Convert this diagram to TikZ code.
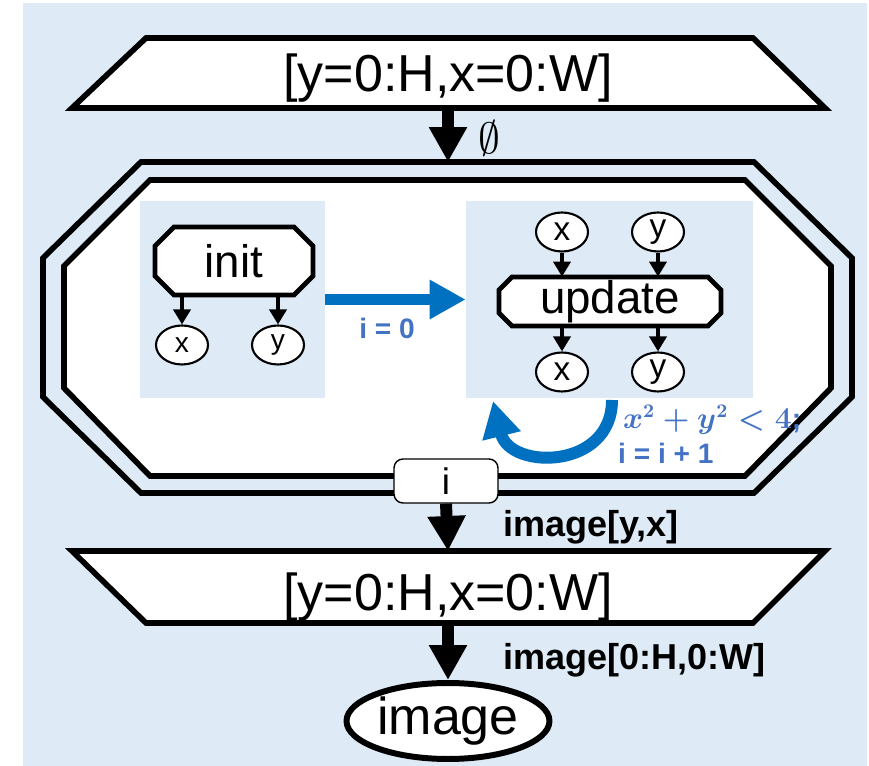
\documentclass[tikz,border=0pt]{standalone}
\usepackage{fontspec}
\setmainfont{Liberation Sans}
\usepackage{amsmath, amssymb}
\usetikzlibrary{arrows.meta, shapes.misc, shapes.geometric, positioning}
\definecolor{bgblue}{HTML}{DEEBF7}
\definecolor{arrblue}{HTML}{0070C0}
\definecolor{txtblue}{HTML}{4472C4}

\begin{document}
\begin{tikzpicture}[x=0.02cm, y=-0.02cm,
        bigline/.style={line width=3.2pt, line join=miter},
        funcline/.style={line width=2.8pt, line join=miter, fill=white},
        flow/.style={line width=6.8pt, -{Triangle[width=0.72cm,length=0.7cm]}},
        smallflow/.style={line width=2.6pt, -{Triangle[width=0.34cm,length=0.3cm]}},
        blueflow/.style={arrblue, line width=6.8pt, -{Triangle[width=0.74cm,length=0.72cm]}},
        varnode/.style={ellipse, draw, line width=1.2pt, fill=white, minimum width=1.04cm, minimum height=0.78cm, inner sep=0pt, font=\fontsize{19}{19}\selectfont},
        funcnode/.style={rectangle, inner sep=0pt, font=\fontsize{26}{26}\selectfont},
        panel/.style={fill=bgblue, inner sep=0pt, minimum height=3.94cm},
        rangetext/.style={font=\fontsize{29.6}{29.6}\selectfont},
        lbl/.style={font=\bfseries\fontsize{20.5}{20.5}\selectfont, anchor=west},
        bluelbl/.style={text=txtblue, font=\bfseries\fontsize{16}{16}\selectfont, anchor=west}]
    \useasboundingbox (0,0) rectangle (869,766);
    \fill[bgblue] (23,3) rectangle (867,766);

    % outer range
    \filldraw[bigline, fill=white] (146,38) -- (753,38) -- (825,108) -- (72,108) -- cycle;
    \node[rangetext] (toprange) at (448,78) {[y=0:H,x=0:W]};
    \coordinate (topout) at (448,108);

    % loop body
    \draw[bigline] (141,162) -- (754,162) -- (852,258) -- (852,397) -- (754,493) -- (141,493) -- (43,397) -- (43,258) -- cycle;
    \filldraw[bigline, fill=white] (150,180) -- (745,180) -- (831,266) -- (831,388) -- (745,476) -- (150,476) -- (64,388) -- (64,266) -- cycle;
    \coordinate (loopin) at (448,162);

    \node[panel, minimum width=3.7cm] (lpanel) at (232.5,299.5) {};
    \node[panel, minimum width=5.74cm] (rpanel) at (609.5,299.5) {};

    % init block
    \filldraw[funcline] (174,227) -- (294,227) -- (313,246) -- (313,276) -- (294,295) -- (174,295) -- (155,276) -- (155,246) -- cycle;
    \node[funcnode, minimum width=3.16cm, minimum height=1.36cm] (init) at (234,261) {init};
    \node[varnode, font=\fontsize{16}{16}\selectfont] (initx) at (182,345) {x};
    \node[varnode, font=\fontsize{16}{16}\selectfont] (inity) at (278,345) {y};
    \draw[smallflow] (init.south -| initx) -- (initx.north);
    \draw[smallflow] (init.south -| inity) -- (inity.north);

    % update block
    \filldraw[funcline] (512,277) -- (708,277) -- (721,290) -- (721,313) -- (708,326) -- (512,326) -- (499,313) -- (499,290) -- cycle;
    \node[funcnode, minimum width=4.44cm, minimum height=0.98cm] (update) at (610,301.5) {update};
    \node[varnode] (inx) at (562,232) {x};
    \node[varnode] (iny) at (658,232) {y};
    \node[varnode] (outx) at (562,372) {x};
    \node[varnode] (outy) at (658,372) {y};
    \draw[smallflow] (inx.south) -- (update.north -| inx);
    \draw[smallflow] (iny.south) -- (update.north -| iny);
    \draw[smallflow] (update.south -| outx) -- (outx.north);
    \draw[smallflow] (update.south -| outy) -- (outy.north);

    \draw[blueflow] (lpanel.east) -- (rpanel.west);
    \node[bluelbl, anchor=center] (initval) at (387,328) {i = 0};

    \coordinate (loopa) at (612,400);
    \coordinate (loopb) at (493,401);
    \draw[blueflow] (loopa) .. controls (612,470) and (510,470) .. (loopb);
    \node[bluelbl] (condlbl) at (617,420) {$\boldsymbol{x^2+y^2<4}$;};
    \node[bluelbl] (incrlbl) at (612,453) {i = i + 1};

    \node[draw, fill=white, rounded corners=0.18cm, line width=0.8pt, minimum width=2.08cm, minimum height=0.88cm, font=\fontsize{21}{21}\selectfont] (ivar) at (446,481) {i};

    % inner range
    \filldraw[bigline, fill=white] (72,551) -- (825,551) -- (753,623) -- (146,623) -- cycle;
    \node[rangetext] (botrange) at (448,597) {[y=0:H,x=0:W]};
    \coordinate (botin) at (448,551);
    \coordinate (botout) at (448,623);

    \node[ellipse, draw, line width=3.4pt, fill=white, minimum width=4.06cm, minimum height=1.52cm, inner sep=0pt, font=\fontsize{29.6}{29.6}\selectfont] (image) at (448,721) {image};

    \draw[flow] (topout) -- (loopin);
    \node[font=\fontsize{24}{24}\selectfont] (emptylbl) at (489,138) {$\emptyset$};
    \draw[flow] (ivar.south) -- (botin);
    \node[lbl] (elem) at (497,527) {image[y,x]};
    \draw[flow] (botout) -- (image.north);
    \node[lbl] (whole) at (497,660) {image[0:H,0:W]};
\end{tikzpicture}
\end{document}
